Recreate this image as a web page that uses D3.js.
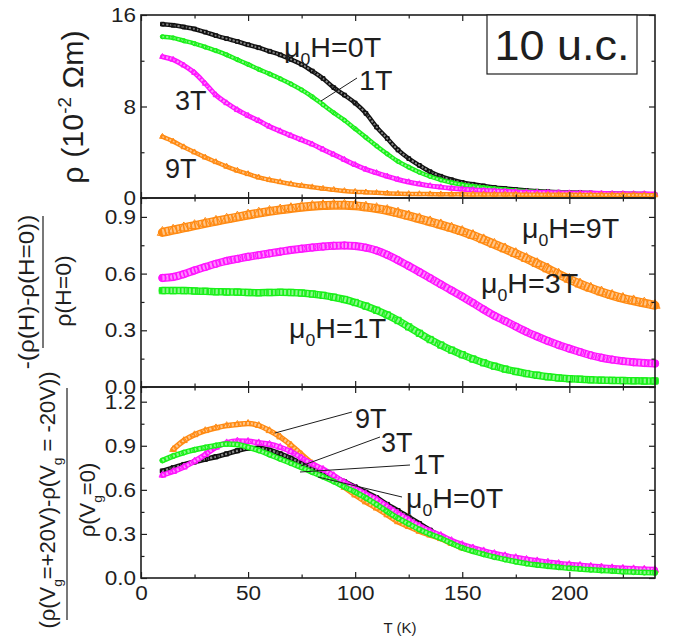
<!DOCTYPE html>
<html>
<head>
<meta charset="utf-8">
<script src="https://cdn.jsdelivr.net/npm/d3@7"></script>
<style>
  body { margin: 0; background: #fff; }
  svg { display: block; }
  text { font-family: "Liberation Sans", Arial, Helvetica, sans-serif; fill: #1e1e1e; }
</style>
</head>
<body>
<svg id="chart" width="679" height="642"></svg>
<script>
// ---------- data ----------
// temperatures (K) at which each curve is sampled
const temps = [10,15,20,25,30,35,40,45,50,55,60,65,70,75,80,85,90,95,100,105,110,115,120,125,130,135,140,145,150,155,160,165,170,175,180,185,190,195,200,205,210,215,220,225,230,235,240];

// resistivity rho (10^-2 Ohm m) at mu0H = 0, 1, 3, 9 T
const rho0T = [15.2,15.1,14.95,14.78,14.5,14.2,13.93,13.68,13.4,13.14,12.83,12.52,12.12,11.68,11.1,10.45,9.65,9.0,8.3,7.4,6.2,5.2,4.2,3.45,2.85,2.3,1.9,1.6,1.36,1.2,1.06,0.93,0.83,0.74,0.66,0.6,0.55,0.51,0.48,0.45,0.43,0.41,0.39,0.37,0.35,0.34,0.32];
const rho1T = [14.1,14.0,13.75,13.5,13.2,12.88,12.52,12.1,11.68,11.25,10.85,10.43,9.97,9.45,8.85,8.15,7.45,6.8,6.05,5.3,4.55,3.85,3.2,2.7,2.25,1.88,1.58,1.35,1.16,1.02,0.91,0.81,0.73,0.65,0.58,0.53,0.49,0.46,0.44,0.42,0.4,0.38,0.37,0.35,0.34,0.33,0.32];
const rho3T = [12.35,12.1,11.6,10.95,10.0,9.0,8.3,7.7,7.2,6.75,6.25,5.85,5.45,5.08,4.7,4.25,3.8,3.35,2.9,2.5,2.2,1.9,1.62,1.4,1.22,1.06,0.95,0.85,0.77,0.71,0.66,0.62,0.58,0.54,0.51,0.49,0.47,0.45,0.43,0.42,0.41,0.4,0.38,0.37,0.36,0.36,0.35];
const rho9T = [5.36,4.95,4.45,4.0,3.55,3.15,2.75,2.4,2.1,1.8,1.58,1.4,1.22,1.07,0.95,0.82,0.72,0.62,0.55,0.5,0.45,0.41,0.38,0.36,0.35,0.34,0.33,0.32,0.32,0.31,0.31,0.3,0.3,0.3,0.29,0.29,0.28,0.28,0.28,0.27,0.27,0.27,0.26,0.26,0.26,0.25,0.25];

// magnetoresistance -(rho(H)-rho(0))/rho(0)
const mr1T = [0.51,0.51,0.51,0.508,0.506,0.504,0.503,0.502,0.5,0.499,0.5,0.501,0.5,0.497,0.492,0.485,0.475,0.463,0.447,0.428,0.406,0.381,0.352,0.318,0.284,0.251,0.222,0.195,0.171,0.148,0.128,0.11,0.095,0.082,0.071,0.062,0.054,0.048,0.044,0.041,0.038,0.036,0.035,0.034,0.033,0.032,0.032];
const mr3T = [0.577,0.582,0.597,0.617,0.635,0.652,0.667,0.678,0.689,0.698,0.707,0.716,0.725,0.732,0.738,0.743,0.747,0.749,0.746,0.737,0.722,0.699,0.671,0.64,0.608,0.576,0.543,0.511,0.479,0.445,0.41,0.377,0.349,0.32,0.292,0.267,0.243,0.222,0.203,0.185,0.168,0.155,0.145,0.137,0.131,0.127,0.124];
const mr9T = [0.818,0.83,0.842,0.854,0.866,0.877,0.888,0.899,0.91,0.92,0.929,0.937,0.944,0.951,0.956,0.96,0.962,0.962,0.959,0.952,0.944,0.934,0.92,0.905,0.89,0.874,0.858,0.841,0.823,0.802,0.779,0.755,0.731,0.706,0.68,0.653,0.625,0.597,0.57,0.545,0.523,0.503,0.485,0.469,0.456,0.444,0.432];

// gate modulation (rho(+20V)-rho(-20V))/rho(0V)
const gate0T = [0.728,0.75,0.772,0.79,0.808,0.825,0.845,0.866,0.883,0.884,0.87,0.845,0.815,0.78,0.745,0.716,0.688,0.655,0.62,0.583,0.546,0.5,0.458,0.415,0.37,0.325,0.282,0.246,0.216,0.193,0.172,0.154,0.139,0.125,0.112,0.102,0.094,0.086,0.079,0.073,0.068,0.063,0.058,0.055,0.051,0.048,0.046];
const gate1T = [0.8,0.83,0.854,0.873,0.888,0.902,0.912,0.908,0.89,0.868,0.84,0.81,0.781,0.752,0.72,0.689,0.656,0.62,0.585,0.545,0.5,0.452,0.407,0.368,0.33,0.298,0.27,0.236,0.205,0.182,0.161,0.142,0.126,0.111,0.098,0.088,0.08,0.073,0.066,0.061,0.056,0.051,0.047,0.043,0.04,0.037,0.035];
const gate3T = [0.7,0.725,0.755,0.795,0.84,0.89,0.92,0.932,0.93,0.92,0.91,0.89,0.86,0.817,0.776,0.74,0.697,0.651,0.61,0.571,0.535,0.487,0.44,0.396,0.355,0.318,0.29,0.255,0.228,0.205,0.185,0.167,0.152,0.139,0.127,0.117,0.108,0.099,0.092,0.086,0.08,0.075,0.07,0.066,0.063,0.06,0.058];
const gate9T = [null,0.875,0.935,0.975,1.003,1.022,1.037,1.045,1.052,1.038,1.003,0.96,0.905,0.84,0.778,0.72,0.668,0.617,0.565,0.518,0.476,0.43,0.383,0.35,0.318,0.292,0.268,0.235,0.205,0.185,0.166,0.15,0.136,0.124,0.113,0.104,0.096,0.09,0.085,0.08,0.075,0.07,0.066,0.062,0.058,0.055,0.052];

// axis ticks
const xMajor = [0,50,100,150,200];
const xMinor = [25,75,125,175,225];
const rhoMajor = [0,8,16], rhoMinor = [4,12];
const mrMajor = [0,0.3,0.6,0.9], mrMinor = [0.15,0.45,0.75];
const gateMajor = [0,0.3,0.6,0.9,1.2], gateMinor = [0.15,0.45,0.75,1.05];

// ---------- layout ----------
const svg = d3.select("#chart");
const left = 141, right = 655;
const x = d3.scaleLinear().domain([0, 240]).range([left, right]);

const colors = { k: "#111111", g: "#19f019", m: "#ff14ff", o: "#ff8a12" };

const panels = [
  { top: 15,  bottom: 198, domain: [0, 16],  major: rhoMajor,  minor: rhoMinor,  fmt: d3.format("d"),
    series: [
      { v: rho0T, c: colors.k, shape: d3.symbolSquare,   size: 14, band: 4.5 },
      { v: rho1T, c: colors.g, shape: d3.symbolCircle,   size: 14, band: 4.5 },
      { v: rho3T, c: colors.m, shape: d3.symbolTriangle, size: 14, band: 5 },
      { v: rho9T, c: colors.o, shape: d3.symbolTriangle, size: 14, band: 4.5 }
    ] },
  { top: 198, bottom: 387, domain: [0, 1.0], major: mrMajor,  minor: mrMinor,   fmt: d3.format(".1f"),
    series: [
      { v: mr1T, c: colors.g, shape: d3.symbolSquare,   size: 40, band: 7.5 },
      { v: mr3T, c: colors.m, shape: d3.symbolCircle,   size: 42, band: 8 },
      { v: mr9T, c: colors.o, shape: d3.symbolTriangle, size: 45, band: 9 }
    ] },
  { top: 387, bottom: 578, domain: [0, 1.3], major: gateMajor, minor: gateMinor, fmt: d3.format(".1f"),
    series: [
      { v: gate9T, c: colors.o, shape: d3.symbolTriangle, size: 20, band: 5.5 },
      { v: gate0T, c: colors.k, shape: d3.symbolSquare,   size: 18, band: 5 },
      { v: gate3T, c: colors.m, shape: d3.symbolTriangle, size: 20, band: 5.5 },
      { v: gate1T, c: colors.g, shape: d3.symbolCircle,   size: 20, band: 5.5 }
    ] }
];

const tickFont = 20.5, tickSx = 1.1;

function styleTicks(sel) {
  sel.select(".domain").remove();
  sel.attr("color", "#1e1e1e");
  sel.selectAll(".tick line").attr("stroke-width", 1.2);
}

panels.forEach((p, i) => {
  const y = d3.scaleLinear().domain(p.domain).range([p.bottom, p.top]);
  const g = svg.append("g");

  // data bands: line through the samples + open markers at each sample
  p.series.forEach(s => {
    const pts = temps.map((t, k) => [t, s.v[k]]).filter(d => d[1] != null);
    const line = d3.line().x(d => x(d[0])).y(d => y(d[1])).curve(d3.curveMonotoneX);
    g.append("path").attr("d", line(pts)).attr("fill", "none")
      .attr("stroke", s.c).attr("stroke-width", s.band)
      .attr("stroke-linejoin", "round").attr("stroke-linecap", "round");
    g.append("path").attr("d", line(pts)).attr("fill", "none")
      .attr("stroke", "#fff").attr("stroke-opacity", 0.5)
      .attr("stroke-width", Math.max(s.band - 2.6, 1))
      .attr("stroke-dasharray", "2.2 1.6");
    g.append("g").selectAll("path").data(pts).join("path")
      .attr("transform", d => `translate(${x(d[0])},${y(d[1])})`)
      .attr("d", d3.symbol(s.shape, s.size)())
      .attr("fill", "none").attr("stroke", s.c).attr("stroke-width", 1);
  });

  // left axis with labels
  const la = g.append("g").attr("transform", `translate(${left},0)`)
    .call(d3.axisLeft(y).tickValues(p.major).tickFormat(p.fmt).tickSize(-6).tickSizeOuter(0).tickPadding(5));
  styleTicks(la);
  la.selectAll("text").attr("font-size", tickFont).attr("fill", "#1e1e1e")
    .attr("x", -5 / tickSx).attr("transform", `scale(${tickSx},1)`);
  const lm = g.append("g").attr("transform", `translate(${left},0)`)
    .call(d3.axisLeft(y).tickValues(p.minor).tickFormat("").tickSize(-3.5).tickSizeOuter(0));
  styleTicks(lm);

  // right axis (ticks only)
  [[p.major, 6], [p.minor, 3.5]].forEach(([vals, len]) => {
    const ra = g.append("g").attr("transform", `translate(${right},0)`)
      .call(d3.axisRight(y).tickValues(vals).tickFormat("").tickSize(-len).tickSizeOuter(0));
    styleTicks(ra);
  });

  // top and bottom edges (inward ticks)
  [[xMajor, 6], [xMinor, 3.5]].forEach(([vals, len]) => {
    const ta = g.append("g").attr("transform", `translate(0,${p.top})`)
      .call(d3.axisTop(x).tickValues(vals).tickFormat("").tickSize(-len).tickSizeOuter(0));
    styleTicks(ta);
  });
  [[xMajor, 6], [xMinor, 3.5]].forEach(([vals, len], j) => {
    const ba = g.append("g").attr("transform", `translate(0,${p.bottom})`)
      .call(d3.axisBottom(x).tickValues(vals)
        .tickFormat(i === panels.length - 1 && j === 0 ? d3.format("d") : "")
        .tickSize(-len).tickSizeOuter(0).tickPadding(7));
    styleTicks(ba);
    ba.selectAll("text").attr("font-size", tickFont).attr("fill", "#1e1e1e")
      .attr("transform", `scale(${tickSx},1)`);
  });

  // frame
  g.append("rect").attr("x", left).attr("y", p.top)
    .attr("width", right - left).attr("height", p.bottom - p.top)
    .attr("fill", "none").attr("stroke", "#1e1e1e").attr("stroke-width", 1.6);
});

// ---------- text helpers ----------
function place(x0, y0, sx, rot) {
  return `translate(${x0},${y0})` + (rot ? ` rotate(${rot})` : "") + ` scale(${sx},1)`;
}
function fieldLabel(x0, y0, field, size, sx) {
  const t = svg.append("text").attr("transform", place(x0, y0, sx)).attr("font-size", size);
  t.append("tspan").text("\u03bc");
  t.append("tspan").attr("font-size", size * 0.62).attr("dy", size * 0.28).text("0");
  t.append("tspan").attr("dy", -size * 0.28).text("H=" + field);
  return t;
}
function plain(x0, y0, str, size, sx, anchor) {
  return svg.append("text").attr("transform", place(x0, y0, sx))
    .attr("font-size", size).attr("text-anchor", anchor || "start").text(str);
}
function leader(x1, y1, x2, y2) {
  svg.append("line").attr("x1", x1).attr("y1", y1).attr("x2", x2).attr("y2", y2)
    .attr("stroke", "#1e1e1e").attr("stroke-width", 1);
}

const annSize = 27, annSx = 1.06;

// top panel labels
fieldLabel(284, 57, "0T", annSize, annSx);
leader(321, 101, 357, 78);
plain(359, 90, "1T", annSize, annSx);
plain(175, 110, "3T", annSize, 1.0);
plain(165, 178, "9T", annSize, 1.0);

// thickness box
svg.append("rect").attr("x", 487).attr("y", 15).attr("width", 150).attr("height", 59)
  .attr("fill", "#fff").attr("stroke", "#1e1e1e").attr("stroke-width", 1.2);
plain(562, 60, "10 u.c.", 42, 1.07, "middle");

// middle panel labels
fieldLabel(522, 238, "9T", annSize, annSx);
fieldLabel(481, 293, "3T", annSize, annSx);
fieldLabel(289, 338, "1T", annSize, annSx);

// bottom panel labels
leader(275, 433, 352, 412);
plain(355, 428, "9T", annSize, 1.0);
leader(301, 466, 380, 437);
plain(381, 452, "3T", annSize, 1.0);
leader(300, 472, 410, 465);
plain(413, 474, "1T", annSize, 1.0);
leader(318, 477, 402, 497);
fieldLabel(406, 508, "0T", annSize, annSx);

// ---------- axis titles ----------
svg.append("text").attr("transform", "translate(400,633)")
  .attr("font-size", 15).attr("text-anchor", "middle").attr("fill", "#444").text("T (K)");

// top y title
{
  const t = svg.append("text").attr("transform", place(83, 107, 1.05, -90))
    .attr("font-size", 29).attr("text-anchor", "middle");
  t.append("tspan").text("\u03c1 (10");
  t.append("tspan").attr("font-size", 18).attr("dy", -12).text("-2");
  t.append("tspan").attr("dy", 12).text(" \u03a9m)");
}

// middle y title (fraction)
svg.append("text").attr("transform", place(34, 292, 1.1, -90))
  .attr("font-size", 22).attr("text-anchor", "middle").text("-(\u03c1(H)-\u03c1(H=0))");
svg.append("line").attr("x1", 43).attr("x2", 43).attr("y1", 216).attr("y2", 348)
  .attr("stroke", "#1e1e1e").attr("stroke-width", 1.2);
svg.append("text").attr("transform", place(71, 291, 1.05, -90))
  .attr("font-size", 22).attr("text-anchor", "middle").text("\u03c1(H=0)");

// bottom y title (fraction)
function withSub(t, parts, size) {
  parts.forEach(pt => {
    if (pt.sub) {
      t.append("tspan").attr("font-size", size * 0.62).attr("dy", size * 0.3).text(pt.sub);
      t.append("tspan").attr("dy", -size * 0.3).text(pt.after);
    } else {
      t.append("tspan").text(pt.text);
    }
  });
}
{
  const t = svg.append("text").attr("transform", place(55, 500, 1.0, -90))
    .attr("font-size", 22).attr("text-anchor", "middle");
  withSub(t, [{ text: "(\u03c1(V" }, { sub: "g", after: "=+20V)-\u03c1(V" }, { sub: "g", after: " = -20V))" }], 22);
  svg.append("line").attr("x1", 67).attr("x2", 67).attr("y1", 388).attr("y2", 620)
    .attr("stroke", "#1e1e1e").attr("stroke-width", 1.2);
  const d = svg.append("text").attr("transform", place(95, 500, 1.0, -90))
    .attr("font-size", 22).attr("text-anchor", "middle");
  withSub(d, [{ text: "\u03c1(V" }, { sub: "g", after: "=0)" }], 22);
}
</script>
</body>
</html>
